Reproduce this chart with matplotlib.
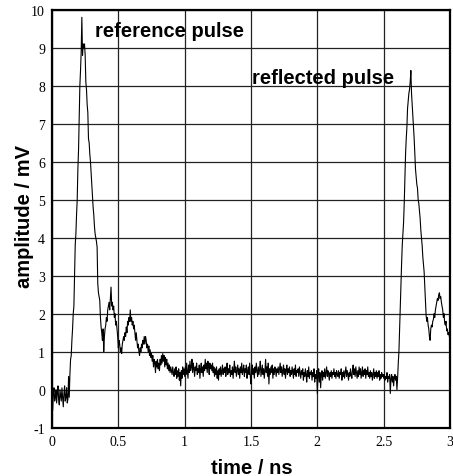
import numpy as np
import matplotlib
matplotlib.use("Agg")
import matplotlib.pyplot as plt

# sample spacing of the recorded trace (ns)
dt = 0.005

# amplitude in mV, one value per 5 ps
amplitude = [
    0.1, -0.55, -0.1, 0.05, -0.3, -0.2, 0.0, -0.35, -0.1, 0.1,
    -0.25, -0.4, 0.0, -0.15, -0.3, 0.05, -0.2, -0.45, -0.1, 0.1,
    -0.3, -0.2, 0.05, -0.35, -0.25, 0.35, -0.2, 0.4, 0.8, 0.9,
    1.3, 1.6, 2.0, 2.2, 3.0, 3.8, 4.1, 4.6, 5.0, 5.8,
    6.3, 7.2, 8.0, 8.4, 8.9, 9.8, 8.8, 9.1, 9.0, 9.1,
    8.8, 8.1, 7.9, 7.5, 7.3, 6.6, 6.5, 6.2, 6.0, 5.7,
    5.4, 5.1, 4.8, 4.6, 4.3, 4.1, 4.0, 3.9, 3.75, 2.8,
    2.55, 2.45, 2.35, 1.9, 1.65, 1.5, 1.3, 1.6, 1.0, 1.4,
    1.6, 1.7, 1.9, 1.8, 2.1, 2.2, 2.3, 2.1, 2.4, 2.7,
    2.2, 2.3, 2.1, 2.2, 1.9, 2.0, 1.7, 1.8, 1.6, 1.4,
    1.1, 1.3, 1.2, 1.0, 1.1, 0.95, 1.2, 1.3, 1.4, 1.3,
    1.5, 1.4, 1.65, 1.5, 1.8, 1.7, 1.9, 1.8, 2.1, 1.8,
    1.9, 1.7, 1.8, 1.6, 1.7, 1.5, 1.3, 1.5, 1.3, 1.1,
    1.2, 1.0, 0.9, 1.1, 1.0, 1.2, 1.1, 1.3, 1.2, 1.4,
    1.2, 1.4, 1.3, 1.1, 1.2, 1.0, 1.15, 0.9, 1.05, 0.85,
    0.95, 0.75, 0.9, 0.6, 0.8, 0.7, 0.45, 0.75, 0.6, 0.8,
    0.55, 0.7, 0.5, 0.8, 0.65, 0.9, 0.7, 0.95, 0.75, 0.9,
    0.6, 0.85, 0.65, 0.8, 0.55, 0.7, 0.5, 0.65, 0.45, 0.6,
    0.5, 0.4, 0.6, 0.45, 0.35, 0.55, 0.4, 0.6, 0.3, 0.5,
    0.35, 0.55, 0.25, 0.45, 0.1, 0.5, 0.3, 0.6, 0.4, 0.55,
    0.35, 0.6, 0.4, 0.7, 0.5, 0.3, 0.65, 0.45, 0.75, 0.5,
    0.6, 0.8, 0.45, 0.7, 0.55, 0.35, 0.6, 0.5, 0.7, 0.4,
    0.55, 0.45, 0.65, 0.3, 0.55, 0.7, 0.45, 0.6, 0.35, 0.65,
    0.5, 0.8, 0.55, 0.7, 0.45, 0.75, 0.6, 0.4, 0.7, 0.55,
    0.65, 0.5, 0.7, 0.45, 0.6, 0.35, 0.55, 0.4, 0.6, 0.3,
    0.5, 0.25, 0.55, 0.4, 0.6, 0.35, 0.5, 0.65, 0.4, 0.55,
    0.45, 0.6, 0.35, 0.5, 0.7, 0.4, 0.55, 0.45, 0.65, 0.35,
    0.5, 0.4, 0.6, 0.3, 0.55, 0.75, 0.45, 0.6, 0.35, 0.5,
    0.65, 0.4, 0.55, 0.3, 0.6, 0.45, 0.7, 0.4, 0.5, 0.65,
    0.35, 0.55, 0.45, 0.65, 0.3, 0.5, 0.6, 0.4, 0.7, 0.35,
    0.15, 0.5, 0.65, 0.4, 0.55, 0.3, 0.6, 0.45, 0.7, 0.5,
    0.35, 0.6, 0.4, 0.55, 0.75, 0.35, 0.5, 0.65, 0.4, 0.55,
    0.3, 0.5, 0.8, 0.45, 0.6, 0.35, 0.7, 0.15, 0.55, 0.4,
    0.6, 0.45, 0.65, 0.3, 0.55, 0.4, 0.6, 0.5, 0.35, 0.55,
    0.45, 0.6, 0.4, 0.55, 0.7, 0.45, 0.6, 0.35, 0.5, 0.65,
    0.4, 0.55, 0.3, 0.5, 0.65, 0.4, 0.55, 0.45, 0.6, 0.35,
    0.5, 0.4, 0.6, 0.45, 0.3, 0.55, 0.4, 0.65, 0.35, 0.5,
    0.45, 0.55, 0.35, 0.6, 0.45, 0.3, 0.5, 0.4, 0.55, 0.25,
    0.45, 0.35, 0.55, 0.4, 0.2, 0.5, 0.35, 0.6, 0.3, 0.45,
    0.4, 0.5, 0.25, 0.45, 0.35, 0.55, 0.2, 0.4, 0.3, 0.5,
    -0.1, 0.35, 0.55, 0.2, 0.45, 0.05, 0.4, 0.5, 0.25, 0.45,
    0.35, 0.55, 0.3, 0.45, 0.6, 0.35, 0.5, 0.4, 0.25, 0.45,
    0.35, 0.5, 0.3, 0.45, 0.4, 0.55, 0.35, 0.45, 0.3, 0.5,
    0.4, 0.35, 0.5, 0.3, 0.45, 0.4, 0.55, 0.25, 0.45, 0.35,
    0.5, 0.3, 0.45, 0.6, 0.35, 0.5, 0.4, 0.25, 0.45, 0.35,
    0.55, 0.4, 0.3, 0.5, 0.65, 0.4, 0.55, 0.35, 0.6, 0.45,
    0.3, 0.5, 0.35, 0.6, 0.4, 0.55, 0.3, 0.45, 0.6, 0.35,
    0.5, 0.4, 0.55, 0.3, 0.5, 0.4, 0.6, 0.35, 0.45, 0.3,
    0.5, 0.35, 0.45, 0.25, 0.4, 0.55, 0.3, 0.45, 0.35, 0.5,
    0.3, 0.45, 0.35, 0.5, 0.25, 0.4, 0.3, 0.45, 0.35, 0.4,
    0.3, 0.4, 0.25, 0.35, 0.3, 0.45, 0.2, 0.35, 0.3, 0.4,
    -0.1, 0.3, 0.4, 0.2, 0.35, 0.1, 0.3, 0.4, 0.25, 0.35,
    0.0, 0.3, 0.7, 1.0, 1.6, 2.2, 2.8, 3.3, 3.8, 4.1,
    4.4, 4.9, 5.6, 6.2, 6.6, 6.9, 7.4, 7.6, 7.8, 7.9,
    8.1, 8.4, 7.8, 7.5, 7.2, 6.9, 6.6, 6.2, 5.8, 5.6,
    5.4, 5.3, 5.0, 4.9, 4.7, 4.5, 4.2, 4.0, 3.8, 3.5,
    3.3, 3.1, 2.7, 2.3, 1.95, 1.8, 1.9, 1.7, 1.6, 1.4,
    1.3, 1.6, 1.7, 1.65, 1.8, 1.85, 2.0, 1.9, 2.1, 2.2,
    2.3, 2.4, 2.35, 2.5, 2.55, 2.4, 2.45, 2.3, 2.2, 2.1,
    1.9, 2.0, 1.75, 1.7, 1.8, 1.55, 1.6, 1.45, 1.5, 1.4,
    1.4,
]

x_ticks = [0, 0.5, 1, 1.5, 2, 2.5, 3]
x_tick_labels = ["0", "0.5", "1", "1.5", "2", "2.5", "3"]
y_ticks = list(range(-1, 11))
y_tick_labels = [str(v) for v in y_ticks]

annotations = ["reference pulse", "reflected pulse"]
annotation_x = [0.325, 1.505]
annotation_y = [9.45, 8.22]

time = np.arange(len(amplitude)) * dt

W, H = 453, 477
fig = plt.figure(figsize=(W / 100, H / 100), dpi=100)
ax = fig.add_axes([52 / W, 1 - 428.7 / H, (450 - 52) / W, (428.7 - 10.7) / H])

ax.plot(time, amplitude, color="black", lw=0.8, zorder=3)

ax.set_xlim(0, 3)
ax.set_ylim(-1, 10)
ax.set_xticks(x_ticks)
ax.set_xticklabels(x_tick_labels)
ax.set_yticks(y_ticks)
ax.set_yticklabels(y_tick_labels)
ax.grid(True, color="#222222", lw=0.9, zorder=1)
ax.tick_params(length=0, pad=5, labelsize=10)
for lab in ax.get_xticklabels() + ax.get_yticklabels():
    lab.set_fontfamily("Liberation Serif")
for sp in ax.spines.values():
    sp.set_linewidth(1.6)
    sp.set_color("black")

for txt, tx, ty in zip(annotations, annotation_x, annotation_y):
    ax.text(tx, ty, txt, fontsize=14.5, fontweight="bold",
            family="Liberation Sans", ha="left", va="center", zorder=4)

fig.text(252 / W, 1 - 469 / H, "time / ns", fontsize=14.5, fontweight="bold",
         family="Liberation Sans", ha="center", va="center")
fig.text(24 / W, 1 - 216 / H, "amplitude / mV", fontsize=14.5, fontweight="bold",
         family="Liberation Sans", ha="center", va="center", rotation=90)

fig.savefig("out.png", dpi=100)
